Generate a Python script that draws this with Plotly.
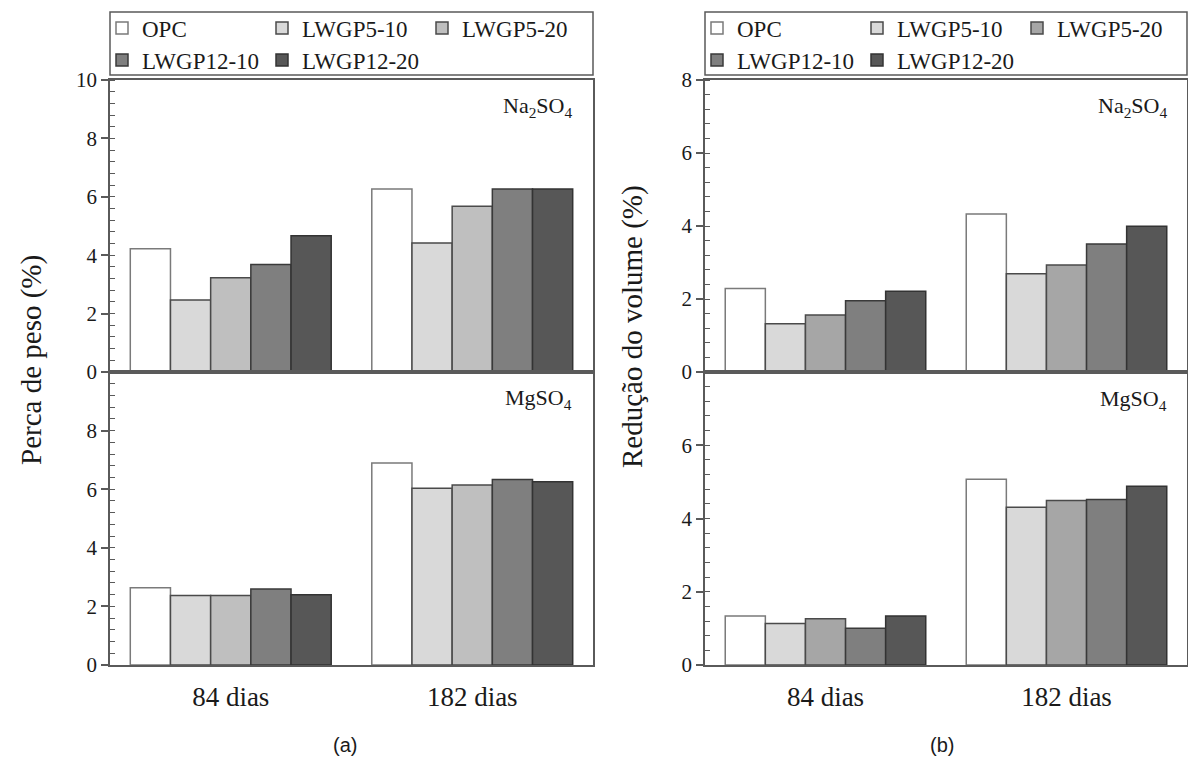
import plotly.graph_objects as go

W, H = 1188, 762

categories = ["84 dias", "182 dias"]
series = ["OPC", "LWGP5-10", "LWGP5-20", "LWGP12-10", "LWGP12-20"]

# (a) Perca de peso (%)
peso_na2so4 = {
    "OPC": [4.22, 6.27],
    "LWGP5-10": [2.47, 4.42],
    "LWGP5-20": [3.23, 5.68],
    "LWGP12-10": [3.68, 6.27],
    "LWGP12-20": [4.67, 6.27],
}
peso_mgso4 = {
    "OPC": [2.64, 6.89],
    "LWGP5-10": [2.37, 6.03],
    "LWGP5-20": [2.37, 6.14],
    "LWGP12-10": [2.59, 6.33],
    "LWGP12-20": [2.40, 6.25],
}
# (b) Redução do volume (%)
vol_na2so4 = {
    "OPC": [2.29, 4.33],
    "LWGP5-10": [1.32, 2.69],
    "LWGP5-20": [1.56, 2.93],
    "LWGP12-10": [1.95, 3.51],
    "LWGP12-20": [2.21, 3.99],
}
vol_mgso4 = {
    "OPC": [1.34, 5.07],
    "LWGP5-10": [1.13, 4.31],
    "LWGP5-20": [1.26, 4.49],
    "LWGP12-10": [1.00, 4.52],
    "LWGP12-20": [1.34, 4.88],
}

colors_a = ["#ffffff", "#d9d9d9", "#bfbfbf", "#7f7f7f", "#575757"]
colors_b = ["#ffffff", "#d9d9d9", "#a6a6a6", "#7f7f7f", "#575757"]
line_colors = ["#7a7a7a", "#4a4a4a", "#4a4a4a", "#3a3a3a", "#333333"]

SERIF = "Liberation Serif, Times New Roman, serif"
SANS = "Liberation Sans, Arial, sans-serif"
TXT = "#1a1a1a"
FRAME = "#5a5a5a"


def px_x(v):
    return v / W


def px_y(v):
    return (H - v) / H


fig = go.Figure()

panels = [
    (peso_na2so4, "x", "y", colors_a, "legend", "legend2", True),
    (peso_mgso4, "x2", "y2", colors_a, "legend", "legend2", False),
    (vol_na2so4, "x3", "y3", colors_b, "legend3", "legend4", True),
    (vol_mgso4, "x4", "y4", colors_b, "legend3", "legend4", False),
]

for data, xa, ya, cols, lg1, lg2, show in panels:
    for i, s in enumerate(series):
        fig.add_trace(go.Bar(
            x=categories, y=data[s], name=s,
            xaxis=xa, yaxis=ya,
            marker=dict(color=cols[i], line=dict(color=line_colors[i], width=1.5)),
            showlegend=show,
            legend=lg1 if i < 3 else lg2,
            legendgroup=xa + s,
        ))

top_dom = [px_y(372), px_y(80)]
bot_dom = [px_y(665), px_y(372)]
left_dom = [px_x(110), px_x(593)]
right_dom = [px_x(705), px_x(1187)]

common_x = dict(showline=True, mirror=True, linecolor=FRAME, linewidth=1.5,
                ticks="", showgrid=False, zeroline=False, automargin=False)
common_y = dict(showline=True, mirror=True, linecolor=FRAME, linewidth=1.5,
                ticks="outside", ticklen=7, tickcolor=FRAME, tickwidth=1.5,
                showgrid=False, zeroline=False, automargin=False,
                tickfont=dict(family=SERIF, size=21, color=TXT),
                minor=dict(ticks="inside", ticklen=5, tickcolor=FRAME, tickwidth=1.2, dtick=0.4))
# inner half of the crossing major ticks
inner_y = dict(showline=False, ticks="inside", ticklen=5, tickcolor=FRAME, tickwidth=1.5,
               showticklabels=False, showgrid=False, zeroline=False, automargin=False, side="left")

xlabel_font = dict(family=SERIF, size=27, color=TXT)

fig.update_layout(
    width=W, height=H,
    margin=dict(l=0, r=0, t=0, b=0, pad=0, autoexpand=False),
    font=dict(family=SERIF, color=TXT),
    paper_bgcolor="white", plot_bgcolor="white",
    barmode="group", bargap=0.168, bargroupgap=0,
    xaxis=dict(domain=left_dom, anchor="y", showticklabels=False, **common_x),
    yaxis=dict(domain=top_dom, anchor="x", range=[0, 10], tickvals=[0, 2, 4, 6, 8, 10], **common_y),
    xaxis2=dict(domain=left_dom, anchor="y2", showticklabels=True, tickfont=xlabel_font,
                ticklabelstandoff=7, **common_x),
    yaxis2=dict(domain=bot_dom, anchor="x2", range=[0, 10], tickvals=[0, 2, 4, 6, 8, 10],
                ticktext=["0", "2", "4", "6", "8", ""], **common_y),
    xaxis3=dict(domain=right_dom, anchor="y3", showticklabels=False, **common_x),
    yaxis3=dict(domain=top_dom, anchor="x3", range=[0, 8], tickvals=[0, 2, 4, 6, 8], **common_y),
    xaxis4=dict(domain=right_dom, anchor="y4", showticklabels=True, tickfont=xlabel_font,
                ticklabelstandoff=7, **common_x),
    yaxis4=dict(domain=bot_dom, anchor="x4", range=[0, 8], tickvals=[0, 2, 4, 6, 8],
                ticktext=["0", "2", "4", "6", ""], **common_y),
    yaxis5=dict(overlaying="y", anchor="x", range=[0, 10], tickvals=[2, 4, 6, 8], **inner_y),
    yaxis6=dict(overlaying="y2", anchor="x2", range=[0, 10], tickvals=[2, 4, 6, 8], **inner_y),
    yaxis7=dict(overlaying="y3", anchor="x3", range=[0, 8], tickvals=[2, 4, 6], **inner_y),
    yaxis8=dict(overlaying="y4", anchor="x4", range=[0, 8], tickvals=[2, 4, 6], **inner_y),
)

legend_common = dict(orientation="h", xanchor="left", yanchor="middle",
                     bgcolor="rgba(0,0,0,0)", borderwidth=0,
                     font=dict(family=SERIF, size=23, color=TXT),
                     entrywidth=115, entrywidthmode="pixels", itemwidth=30,
                     traceorder="normal")
fig.update_layout(
    legend=dict(x=px_x(102), y=px_y(28), **legend_common),
    legend2=dict(x=px_x(102), y=px_y(60), **legend_common),
    legend3=dict(x=px_x(697), y=px_y(28), **legend_common),
    legend4=dict(x=px_x(697), y=px_y(60), **legend_common),
)

for x0, x1 in [(110, 593), (705, 1187)]:
    fig.add_shape(type="rect", xref="paper", yref="paper",
                  x0=px_x(x0), x1=px_x(x1), y0=px_y(75), y1=px_y(12),
                  line=dict(color=FRAME, width=1.5), fillcolor="rgba(0,0,0,0)")

ann_font = dict(family=SERIF, size=22, color=TXT)
annotations = [
    dict(text="Na<sub>2</sub>SO<sub>4</sub>", x=px_x(574), y=px_y(107), xanchor="right", yanchor="middle", font=ann_font),
    dict(text="MgSO<sub>4</sub>", x=px_x(574), y=px_y(399), xanchor="right", yanchor="middle", font=ann_font),
    dict(text="Na<sub>2</sub>SO<sub>4</sub>", x=px_x(1169), y=px_y(107), xanchor="right", yanchor="middle", font=ann_font),
    dict(text="MgSO<sub>4</sub>", x=px_x(1169), y=px_y(400), xanchor="right", yanchor="middle", font=ann_font),
    dict(text="Perca de peso (%)", x=px_x(31), y=px_y(360), textangle=-90, xanchor="center", yanchor="middle",
         font=dict(family=SERIF, size=29, color=TXT)),
    dict(text="Redução do volume (%)", x=px_x(632), y=px_y(327), textangle=-90, xanchor="center", yanchor="middle",
         font=dict(family=SERIF, size=29, color=TXT)),
    dict(text="(a)", x=px_x(345), y=px_y(745), xanchor="center", yanchor="middle",
         font=dict(family=SANS, size=20, color=TXT)),
    dict(text="(b)", x=px_x(942), y=px_y(745), xanchor="center", yanchor="middle",
         font=dict(family=SANS, size=20, color=TXT)),
]
for a in annotations:
    fig.add_annotation(xref="paper", yref="paper", showarrow=False, **a)

fig.write_html("out.html")
